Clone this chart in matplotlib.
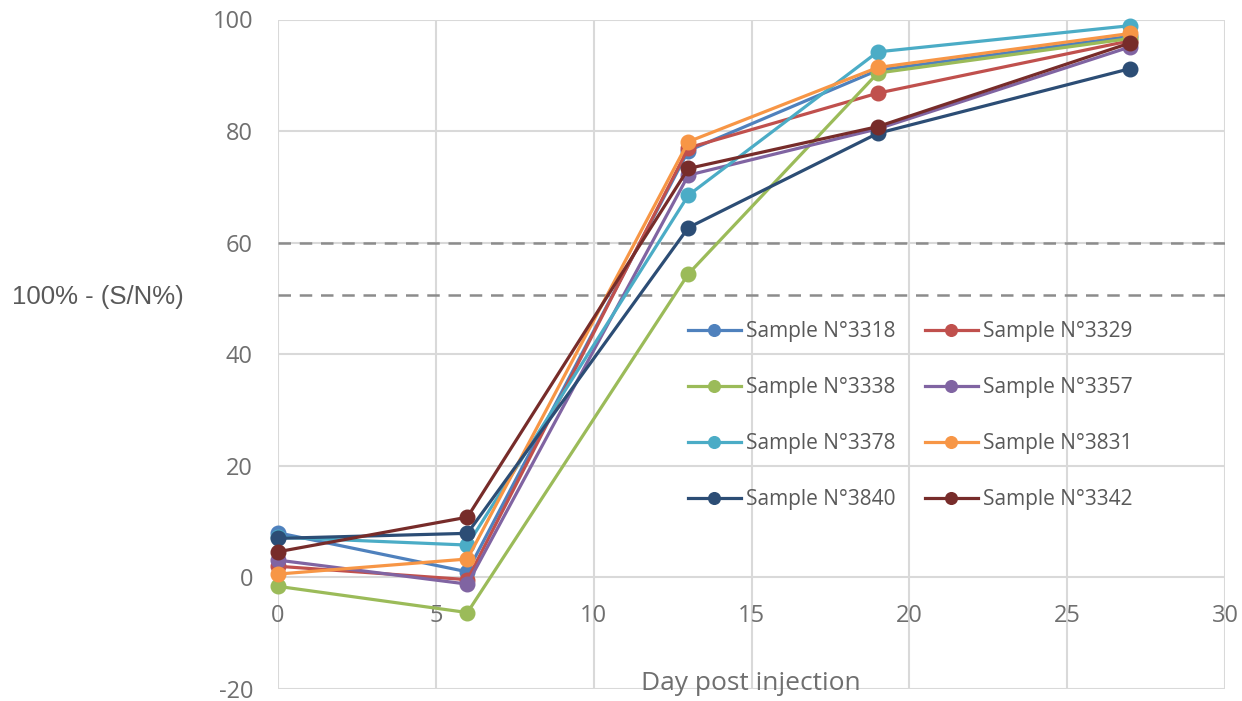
import matplotlib
matplotlib.use("Agg")
import matplotlib.pyplot as plt

plt.rcParams["axes.unicode_minus"] = False

days = [0, 6, 13, 19, 27]
names = ["Sample N°3318", "Sample N°3329", "Sample N°3338", "Sample N°3357",
         "Sample N°3378", "Sample N°3831", "Sample N°3840", "Sample N°3342"]
s3318 = [8.0, 1.0, 76.5, 90.9, 97.0]
s3329 = [2.0, -0.4, 77.0, 86.8, 96.2]
s3338 = [-1.6, -6.3, 54.4, 90.4, 96.6]
s3357 = [3.1, -1.2, 72.1, 80.4, 95.1]
s3378 = [7.2, 5.8, 68.5, 94.2, 98.9]
s3831 = [0.6, 3.3, 78.1, 91.4, 97.5]
s3840 = [7.0, 7.9, 62.7, 79.6, 91.2]
s3342 = [4.6, 10.8, 73.3, 80.8, 95.8]
series = [s3318, s3329, s3338, s3357, s3378, s3831, s3840, s3342]
colors = ["#4F81BD", "#C0504D", "#9BBB59", "#8064A2",
          "#4BACC6", "#F79646", "#2C4D75", "#772C2A"]
thresholds = [60.0, 50.7]
xticks = [0, 5, 10, 15, 20, 25, 30]
yticks = [-20, 0, 20, 40, 60, 80, 100]

fig = plt.figure(figsize=(12.42, 7.01), dpi=100)
ax = fig.add_axes([278/1242, 1-689/701, (1225-278)/1242, (689-19.5)/701])
ax.set_xlim(0, 30)
ax.set_ylim(-20, 100)
ax.set_xticks(xticks)
ax.set_yticks(yticks)
ax.grid(True, color="#d9d9d9", linewidth=1.5)
ax.set_axisbelow(True)
for sp in ax.spines.values():
    sp.set_visible(False)
ax.spines["bottom"].set_position(("data", 0))
ax.tick_params(axis="both", length=0, labelsize=17, labelcolor="#6f6f6f")
ax.tick_params(axis="x", pad=19)
ax.tick_params(axis="y", pad=18)
for lab in ax.get_xticklabels() + ax.get_yticklabels():
    lab.set_family("Open Sans")

for t in thresholds:
    ax.axhline(t, color="#8c8c8c", linewidth=1.8, linestyle=(0, (5, 3.5)), zorder=1.5)

handles = []
for name, vals, c in zip(names, series, colors):
    h, = ax.plot(days, vals, color=c, linewidth=2.3, marker="o", markersize=10.5,
                 label=name, zorder=3, clip_on=False)
    handles.append(h)

# legend filled row by row (2 columns)
order = [0, 2, 4, 6, 1, 3, 5, 7]
leg = ax.legend([handles[i] for i in order], [names[i] for i in order],
                loc="upper left", bbox_to_anchor=(678/1242, 1-311/701),
                bbox_transform=fig.transFigure, ncol=2, frameon=False,
                prop={"family": "Open Sans", "size": 15},
                handlelength=2.5, handletextpad=0.25, columnspacing=1.45,
                labelspacing=1.68, markerscale=0.8, borderpad=0)
for txt in leg.get_texts():
    txt.set_color("#595959")

fig.text(751/1242, 1-684/701, "Day post injection", ha="center", va="center",
         fontsize=19, color="#6f6f6f", family="Open Sans")
fig.text(12/1242, 1-297/701, "100% - (S/N%)", ha="left", va="center",
         fontsize=18.5, color="#595959", family="Liberation Sans")

fig.savefig("out.png", dpi=100)
